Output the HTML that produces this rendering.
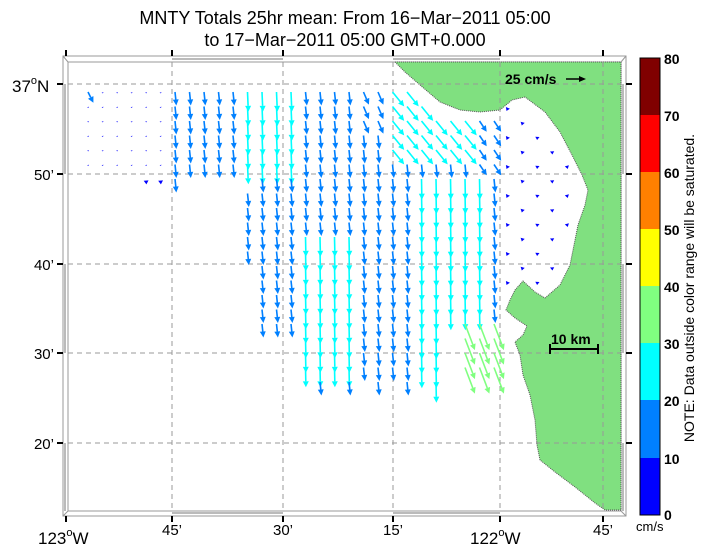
<!DOCTYPE html>
<html><head><meta charset="utf-8">
<style>
html,body{margin:0;padding:0;background:#fff;}
svg{display:block;font-family:"Liberation Sans",sans-serif;}
</style></head>
<body>
<svg id="s" width="703" height="548" xmlns="http://www.w3.org/2000/svg">
<rect width="703" height="548" fill="#fff"/>
<text x="345" y="24" font-size="18" text-anchor="middle">MNTY Totals 25hr mean: From 16−Mar−2011 05:00</text>
<text x="345" y="46" font-size="18" text-anchor="middle">to 17−Mar−2011 05:00 GMT+0.000</text>
<g fill="none" stroke="#999" stroke-width="1">
<rect x="63" y="56" width="563" height="460"/>
<rect x="68" y="62" width="553" height="449"/>
<line x1="63" y1="56" x2="68" y2="62"/><line x1="626" y1="56" x2="621" y2="62"/>
<line x1="63" y1="516" x2="68" y2="511"/><line x1="626" y1="516" x2="621" y2="511"/>
</g>
<g stroke="#bbb" stroke-width="2">
<line x1="172" y1="59" x2="283" y2="59"/><line x1="393" y1="59" x2="500" y2="59"/>
<line x1="172" y1="513" x2="283" y2="513"/><line x1="393" y1="513" x2="500" y2="513"/>
<line x1="65" y1="84" x2="65" y2="174"/><line x1="65" y1="264" x2="65" y2="353"/><line x1="65" y1="443" x2="65" y2="511"/>
<line x1="623" y1="84" x2="623" y2="174"/><line x1="623" y1="264" x2="623" y2="353"/><line x1="623" y1="443" x2="623" y2="511"/>
</g>
<polygon fill="#80e080" stroke="#555" stroke-width="1" stroke-dasharray="1 1" points="395,62 405,72 420,85 440,102 460,110 480,112 500,110 512,100 525,97 545,112 560,132 572,155 582,175 588,190 585,205 578,225 573,250 570,265 560,285 545,298 535,292 523,281 515,290 510,300 506,310 515,318 527,326 523,335 515,342 520,355 523,375 530,395 535,420 537,445 540,460 555,472 575,487 595,503 605,510 621,510 621,62"/>
<g stroke="#999" stroke-width="1" stroke-dasharray="5 4">
<line x1="172" y1="62" x2="172" y2="511"/><line x1="283" y1="62" x2="283" y2="511"/><line x1="393" y1="62" x2="393" y2="511"/><line x1="500" y1="62" x2="500" y2="511"/><line x1="603" y1="62" x2="603" y2="511"/>
<line x1="68" y1="84" x2="621" y2="84"/><line x1="68" y1="174" x2="621" y2="174"/><line x1="68" y1="264" x2="621" y2="264"/><line x1="68" y1="353" x2="621" y2="353"/><line x1="68" y1="443" x2="621" y2="443"/>
</g>
<g stroke="#000" stroke-width="2">
<line x1="66" y1="50" x2="66" y2="56"/><line x1="172" y1="50" x2="172" y2="56"/><line x1="283" y1="50" x2="283" y2="56"/><line x1="393" y1="50" x2="393" y2="56"/><line x1="500" y1="50" x2="500" y2="56"/><line x1="603" y1="50" x2="603" y2="56"/>
<line x1="66" y1="516" x2="66" y2="522"/><line x1="172" y1="516" x2="172" y2="522"/><line x1="283" y1="516" x2="283" y2="522"/><line x1="393" y1="516" x2="393" y2="522"/><line x1="500" y1="516" x2="500" y2="522"/><line x1="603" y1="516" x2="603" y2="522"/>
<line x1="57" y1="84" x2="63" y2="84"/><line x1="57" y1="174" x2="63" y2="174"/><line x1="57" y1="264" x2="63" y2="264"/><line x1="57" y1="353" x2="63" y2="353"/><line x1="57" y1="443" x2="63" y2="443"/>
<line x1="626" y1="84" x2="632" y2="84"/><line x1="626" y1="174" x2="632" y2="174"/><line x1="626" y1="264" x2="632" y2="264"/><line x1="626" y1="353" x2="632" y2="353"/><line x1="626" y1="443" x2="632" y2="443"/>
</g>
<g font-size="17">
<text x="12" y="92">37<tspan font-size="11" dy="-8">o</tspan><tspan dy="8">N</tspan></text>
<text x="54" y="180" text-anchor="end" font-size="15">50’</text>
<text x="54" y="270" text-anchor="end" font-size="15">40’</text>
<text x="54" y="359" text-anchor="end" font-size="15">30’</text>
<text x="54" y="449" text-anchor="end" font-size="15">20’</text>
<text x="38" y="544">123<tspan font-size="11" dy="-8">o</tspan><tspan dy="8">W</tspan></text>
<text x="172" y="535" text-anchor="middle" font-size="15">45’</text>
<text x="283" y="535" text-anchor="middle" font-size="15">30’</text>
<text x="393" y="535" text-anchor="middle" font-size="15">15’</text>
<text x="470" y="544">122<tspan font-size="11" dy="-8">o</tspan><tspan dy="8">W</tspan></text>
<text x="603" y="535" text-anchor="middle" font-size="15">45’</text>
</g>
<text x="505" y="84" font-size="14" font-weight="bold">25 cm/s</text>
<line x1="566" y1="79" x2="580" y2="79" stroke="#000" stroke-width="1.5"/><polygon points="586,79 579,76 579,82" fill="#000"/>
<text x="551" y="344" font-size="14" font-weight="bold">10 km</text>
<g stroke="#000" stroke-width="2"><line x1="550" y1="349" x2="598" y2="349"/><line x1="550" y1="344" x2="550" y2="354"/><line x1="598" y1="344" x2="598" y2="354"/></g>
<g id="arrows"></g>
<g>
<rect x="640" y="58" width="20" height="57" fill="#800000"/>
<rect x="640" y="115" width="20" height="57" fill="#ff0000"/>
<rect x="640" y="172" width="20" height="57" fill="#ff8000"/>
<rect x="640" y="229" width="20" height="57" fill="#ffff00"/>
<rect x="640" y="286" width="20" height="57" fill="#80ff80"/>
<rect x="640" y="343" width="20" height="57" fill="#00ffff"/>
<rect x="640" y="400" width="20" height="58" fill="#0080ff"/>
<rect x="640" y="458" width="20" height="57" fill="#0000ff"/>
<rect x="640" y="58" width="20" height="457" fill="none" stroke="#000"/>
</g>
<g font-size="14" font-weight="bold">
<text x="664" y="64">80</text><text x="664" y="121">70</text><text x="664" y="178">60</text><text x="664" y="235">50</text><text x="664" y="292">40</text><text x="664" y="349">30</text><text x="664" y="406">20</text><text x="664" y="464">10</text><text x="664" y="520">0</text>
</g>
<text x="636" y="531" font-size="13">cm/s</text>
<text transform="translate(694,288) rotate(-90)" font-size="14" text-anchor="middle">NOTE: Data outside color range will be saturated.</text>
</svg>
<script>
(function(){
var poly=[[395,62],[405,72],[420,85],[440,102],[460,110],[480,112],[500,110],[512,100],[525,97],[545,112],[560,132],[572,155],[582,175],[588,190],[585,205],[578,225],[573,250],[570,265],[560,285],[545,298],[535,292],[523,281],[515,290],[510,300],[506,310],[515,318],[527,326],[523,335],[515,342],[520,355],[523,375],[530,395],[535,420],[537,445],[540,460],[555,472],[575,487],[595,503],[605,510],[700,510],[700,0],[395,0]];
function inside(x,y){var c=false;for(var i=0,j=poly.length-1;i<poly.length;j=i++){var a=poly[i],b=poly[j];if(((a[1]>y)!=(b[1]>y))&&(x<(b[0]-a[0])*(y-a[1])/(b[1]-a[1])+a[0]))c=!c;}return c;}
function nearLand(x,y){return inside(x+8,y)||inside(x,y+8)||inside(x+6,y-6)||inside(x,y)||inside(x-4,y+8);}
function ok(i,j,x,y){
 if(nearLand(x,y))return false;
 if(x>505&&((i+j)%2==1))return false;
 if(x>448&&y>318&&x<500) return (i%1==0)&&x>455&&x<495&&y<375;
 if(y<170) return x>=85;
 if(y<185) return (x>140&&x<180)||x>=258;
 if(y<262) return x>=243;
 if(y<335) return x>=258;
 if(y<368) return x>=298&&x<495;
 return x>=298&&x<445&&(i%2==0);
}
var g=document.getElementById('arrows'),h='';
function col(s){return s<10?'#0000ff':s<20?'#0080ff':s<30?'#00ffff':'#80ff80';}
for(var j=0;j<21;j++){for(var i=0;i<36;i++){
 var x=88+14.5*i,y=92+14.5*j;
 if(!ok(i,j,x,y))continue;
 var u=1.5,v=-15;
 if(x<165&&y<185){u=0.3;v=-1.6;if(i==0&&j==0){u=6;v=-12;}if(j==6){u=0.5;v=-6;}}
 else if(x>245&&x<305&&y<175){u=1;v=-22;}
 else if(x>300&&x<352&&y>225&&y<368){u=0.5;v=-22;}
 else if(x>418&&x<485&&y>170){u=0.5;v=-23;}
 if(y<160&&x>390&&x<475){u=13;v=-16;}
 else if(y<170&&x>=475&&x<505){u=8;v=-12;}
 else if(y<130&&x>355&&x<=390){u=6;v=-14;}
 if(x>448&&y>318&&x<497){u=11;v=-29;}
 if(x>505){u=(x-545)*0.06;v=-5;}
 var s=Math.sqrt(u*u+v*v),L=s*0.9,dx=u/s,dy=-v/s;
 var x2=x+dx*L,y2=y+dy*L,c=col(s),hl=Math.min(6,L*0.7),hw=Math.min(3,hl*0.5+0.5);
 var bx=x2-dx*hl,by=y2-dy*hl;
 if(L>7)h+='<line x1="'+x.toFixed(1)+'" y1="'+y.toFixed(1)+'" x2="'+bx.toFixed(1)+'" y2="'+by.toFixed(1)+'" stroke="'+c+'" stroke-width="1.6"/>';
 h+='<polygon fill="'+c+'" points="'+x2.toFixed(1)+','+y2.toFixed(1)+' '+(bx-dy*hw).toFixed(1)+','+(by+dx*hw).toFixed(1)+' '+(bx+dy*hw).toFixed(1)+','+(by-dx*hw).toFixed(1)+'"/>';
}}
g.innerHTML=h;
})();
</script>
</body></html>
